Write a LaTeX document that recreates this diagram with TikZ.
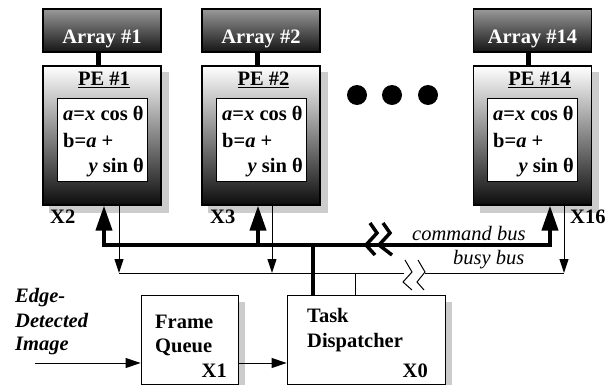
\documentclass[tikz,border=0pt]{standalone}
\usepackage{fontspec}
\setmainfont{Liberation Serif}
\usetikzlibrary{arrows.meta,backgrounds}

\tikzset{
  bigtip/.tip={Triangle[length=25pt,width=16pt]},
  smalltip/.tip={Triangle[length=14pt,width=9pt]},
  txt/.style={inner sep=0pt,font=\fontsize{20.5}{24}\selectfont\bfseries},
  bustxt/.style={inner sep=0pt,font=\fontsize{20.5}{24}\selectfont\itshape},
  arraybox/.style={draw,line width=1.2pt,top color=black!40,bottom color=black!92,minimum width=118pt,minimum height=43pt,inner sep=0pt},
  pebox/.style={draw,line width=1.2pt,top color=white,bottom color=black!95,minimum width=118pt,minimum height=139pt,inner sep=0pt},
  innerbox/.style={draw,line width=1pt,fill=white,minimum width=90pt,minimum height=83pt,inner sep=0pt},
  plainbox/.style={draw,line width=0.9pt,fill=white,minimum height=89pt,inner sep=0pt},
  shadowfill/.style={fill=black!20},
  link/.style={line width=5pt},
  cmdbus/.style={line width=4pt},
  busy/.style={line width=1pt},
  flow/.style={line width=1pt,-{Triangle[length=15pt,width=10pt]}},
  dot/.style={circle,fill,inner sep=0pt,minimum size=20pt}
}

\begin{document}
\begin{tikzpicture}[x=1pt,y=-1pt]
\useasboundingbox (0,0) rectangle (616,385);
% processing elements with their arrays
\node[arraybox] (ar1) at (102,30.5) {};\node[pebox] (pe1) at (102,135.5) {};\node[innerbox] (in1) at (102,140.5) {};
\draw[link] ([xshift=-4pt]ar1.south) -- ([xshift=-4pt]pe1.north);
\node[txt,text=white,anchor=base] (at1) at (102,44) {Array \#1};\node[txt,anchor=base] (pt1) at (104,86) {\underline{PE \#1}};
\node[txt,anchor=base west] (fa1) at (63,121) {\textit{a}=\textit{x} cos θ};\node[txt,anchor=base west] (fb1) at (63,148) {b=\textit{a} +};
\node[txt,anchor=base east] (fc1) at (144,173) {\textit{y} sin θ};\node[txt,anchor=base west] (x2) at (50,223) {X2};

\node[arraybox] (ar2) at (261,30.5) {};\node[pebox] (pe2) at (261,135.5) {};\node[innerbox] (in2) at (261,140.5) {};
\draw[link] ([xshift=-4pt]ar2.south) -- ([xshift=-4pt]pe2.north);
\node[txt,text=white,anchor=base] (at2) at (261,44) {Array \#2};\node[txt,anchor=base] (pt2) at (263.5,86) {\underline{PE \#2}};
\node[txt,anchor=base west] (fa2) at (222,121) {\textit{a}=\textit{x} cos θ};\node[txt,anchor=base west] (fb2) at (222,148) {b=\textit{a} +};
\node[txt,anchor=base east] (fc2) at (303,173) {\textit{y} sin θ};\node[txt,anchor=base west] (x3) at (210,223) {X3};

\node[arraybox] (ar14) at (532.5,30.5) {};\node[pebox] (pe14) at (532.5,135.5) {};\node[innerbox] (in14) at (532.5,140.5) {};
\draw[link] ([xshift=-4pt]ar14.south) -- ([xshift=-4pt]pe14.north);
\node[txt,text=white,anchor=base] (at14) at (532.5,44) {Array \#14};\node[txt,anchor=base] (pt14) at (539.5,86) {\underline{PE \#14}};
\node[txt,anchor=base west] (fa14) at (493,121) {\textit{a}=\textit{x} cos θ};\node[txt,anchor=base west] (fb14) at (493,148) {b=\textit{a} +};
\node[txt,anchor=base east] (fc14) at (574,173) {\textit{y} sin θ};\node[txt,anchor=base west] (x16) at (570,223) {X16};

\node[dot] (d1) at (357,95) {};\node[dot] (d2) at (392,95) {};\node[dot] (d3) at (428,95) {};

% frame queue and dispatcher
\node[plainbox,minimum width=97pt] (fq) at (189.5,339.5) {};\node[plainbox,minimum width=158pt] (td) at (366,339.5) {};
\node[txt,anchor=base west] (fq1) at (155,328) {Frame};\node[txt,anchor=base west] (fq2) at (155,352) {Queue};
\node[txt,anchor=base east] (x1) at (227,377) {X1};
\node[txt,anchor=base west] (td1) at (307,322) {Task};\node[txt,anchor=base west] (td2) at (307,347) {Dispatcher};
\node[txt,anchor=base east] (x0) at (428,377) {X0};
\node[txt,anchor=base west] (im1) at (15,302) {\textit{Edge-}};\node[txt,anchor=base west] (im2) at (15,327) {\textit{Detected}};
\node[txt,anchor=base west] (im3) at (15,350) {\textit{Image}};
\coordinate (img) at (35,363);
\draw[flow] (img) -- (img -| fq.west);\draw[flow] (fq.east |- img) -- (td.west |- img);

% command bus
\coordinate (cb1) at (104,245);\coordinate (cb2) at (258,245);\coordinate (cb14) at (550,245);\coordinate (cbd) at (313,245);
\draw[cmdbus,{bigtip}-{bigtip}] (cb1 |- pe1.south) -- (cb1) -- (cb14) -- (cb14 |- pe14.south);
\draw[cmdbus,-{bigtip}] (cb2) -- (cb2 |- pe2.south);\draw[cmdbus] (cbd) -- (cbd |- td.north);
\draw[line width=3.5pt] (370,223) -- (377,233) -- (366,245) -- (375,255);\draw[line width=3.5pt] (383,223) -- (390,233) -- (379,245) -- (392,255);
\node[bustxt,anchor=base west] (cmd) at (412,240) {command bus};

% busy bus
\coordinate (bb1) at (119,273);\coordinate (bb2) at (272,273);\coordinate (bb14) at (564,273);\coordinate (bbd) at (355,273);
\coordinate (brk1) at (404,273);\coordinate (brk2) at (425,273);
\draw[busy,-{smalltip}] (bb1 |- pe1.south) -- (bb1);\draw[busy,-{smalltip}] (bb2 |- pe2.south) -- (bb2);
\draw[busy,-{smalltip}] (bb14 |- pe14.south) -- (bb14);
\draw[busy] (bb1) -- (brk1);\draw[busy] (brk2) -- (bb14);\draw[busy] (bbd) -- (bbd |- td.north);
\draw[busy] (405,260) -- (412,272) -- (403,282) -- (412,290);\draw[busy] (418,260) -- (425,272) -- (417,282) -- (424,290);
\node[bustxt,anchor=base west] (bsy) at (453,264) {busy bus};

\begin{scope}[on background layer]
\foreach \b in {pe1,pe2,pe14,fq,td}
  \fill[shadowfill] ([shift={(7,7)}]\b.south west) rectangle ([shift={(7,7)}]\b.north east);
\end{scope}
\end{tikzpicture}
\end{document}
